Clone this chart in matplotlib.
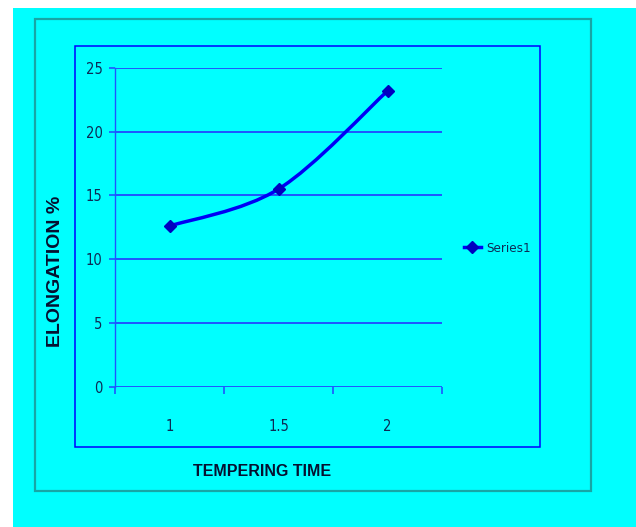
import matplotlib
matplotlib.use("Agg")
import matplotlib.pyplot as plt
from matplotlib import font_manager
from matplotlib.patches import Rectangle, PathPatch
from matplotlib.path import Path
from matplotlib.lines import Line2D

categories = ["1", "1.5", "2"]
elongation = [12.6, 15.5, 23.2]
y_ticks = [0, 5, 10, 15, 20, 25]
series_name = "Series1"
x_title = "TEMPERING TIME"
y_title = "ELONGATION %"

names = {f.name for f in font_manager.fontManager.ttflist}
narrow = "Liberation Sans Narrow" if "Liberation Sans Narrow" in names else "DejaVu Sans"
stretch = "normal" if narrow == "Liberation Sans Narrow" else "condensed"

W, H = 636, 527
fig = plt.figure(figsize=(W / 100, H / 100), dpi=100, facecolor="white")

def fx(px):
    return px / W

def fy(py):
    return 1 - py / H

# cyan background
fig.patches.append(Rectangle((fx(13), 0), 1 - fx(13), fy(8), transform=fig.transFigure,
                             facecolor="#00FFFF", edgecolor="none", zorder=-3))
# outer chart frame
fig.patches.append(Rectangle((fx(35), fy(491)), fx(591 - 35), (491 - 19) / H, transform=fig.transFigure,
                             facecolor="none", edgecolor="#17A6A6", lw=1.6, zorder=-2))
# plot-area frame
fig.patches.append(Rectangle((fx(75), fy(447)), fx(540 - 75), (447 - 46) / H, transform=fig.transFigure,
                             facecolor="none", edgecolor="#0000FF", lw=1.1, zorder=-2))

ax = fig.add_axes([fx(115), fy(386.6), fx(442 - 115), (386.6 - 68) / H])
ax.set_zorder(2)
ax.set_facecolor("none")
ax.set_xlim(0.5, 3.5)
ax.set_ylim(0, 25)

xs = list(range(1, len(categories) + 1))

# smooth (Excel-style) curve through the points
pts = list(zip(xs, elongation))
ext = [pts[0]] + pts + [pts[-1]]
verts = [pts[0]]
codes = [Path.MOVETO]
for i in range(1, len(ext) - 2):
    p0, p1, p2, p3 = ext[i - 1], ext[i], ext[i + 1], ext[i + 2]
    c1 = (p1[0] + (p2[0] - p0[0]) / 6, p1[1] + (p2[1] - p0[1]) / 6)
    c2 = (p2[0] - (p3[0] - p1[0]) / 6, p2[1] - (p3[1] - p1[1]) / 6)
    verts += [c1, c2, p2]
    codes += [Path.CURVE4] * 3
line_color = "#0000F5"
ax.add_patch(PathPatch(Path(verts, codes), facecolor="none", edgecolor=line_color,
                       lw=2.5, zorder=3, capstyle="round", joinstyle="round"))
ax.plot(xs, elongation, linestyle="none", marker="D", markersize=6,
        color="#0000C0", zorder=4, clip_on=False)

# grid
grid_color = "#1F55FF"
ax.set_yticks(y_ticks)
ax.yaxis.grid(True, color=grid_color, lw=1.4)
ax.set_axisbelow(True)
for s in ["top", "right"]:
    ax.spines[s].set_visible(False)
ax.spines["bottom"].set_visible(False)
ax.spines["left"].set_color(grid_color)
ax.spines["left"].set_linewidth(1.0)

tick_color = "#0D2A55"
ax.tick_params(axis="y", direction="out", length=4, width=1.2, color=grid_color,
               labelsize=10.5, labelcolor=tick_color, pad=5)
for lab in ax.get_yticklabels():
    lab.set_fontfamily(narrow)
    lab.set_fontstretch(stretch)

ax.set_xticks([0.5, 1.5, 2.5, 3.5])
ax.set_xticklabels([])
ax.tick_params(axis="x", which="major", direction="out", length=5, width=1.2, color=grid_color)
ax.set_xticks(xs, minor=True)
ax.set_xticklabels(categories, minor=True, fontfamily=narrow, fontstretch=stretch,
                   fontsize=10.5, color=tick_color)
ax.tick_params(axis="x", which="minor", length=0, pad=23)

fig.text(fx(262), fy(471), x_title, ha="center", va="center", fontsize=11.5,
         fontweight="bold", family="Liberation Sans", color="#061030")
fig.text(fx(56), fy(271), y_title, ha="center", va="center", rotation=90, fontsize=14,
         fontweight="bold", family="Liberation Sans", color="#061030")

handle = Line2D([], [], color=line_color, lw=2.5, marker="D", markersize=6,
                markerfacecolor="#0000C0", markeredgecolor="#0000C0")
fig.legend([handle], [series_name], loc="center left", bbox_to_anchor=(fx(452), fy(248)),
           frameon=False, handlelength=1.3, handletextpad=0.4,
           prop={"family": narrow, "size": 9.5, "stretch": stretch}, labelcolor=tick_color)

fig.savefig("out.png", dpi=100, facecolor="white")
